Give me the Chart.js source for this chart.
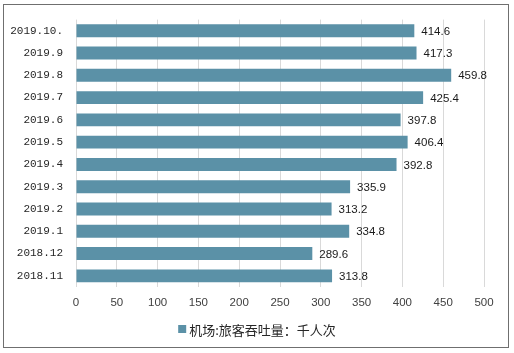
<!DOCTYPE html>
<html>
<head>
<meta charset="utf-8">
<script src="https://cdn.jsdelivr.net/npm/chart.js@4"></script>
<style>
html,body{margin:0;padding:0;background:#fff;}
#wrap{position:relative;width:514px;height:353px;}
#frame{position:absolute;left:3px;top:4px;width:506px;height:344px;box-sizing:border-box;border:1px solid #6f6f6f;pointer-events:none;}
canvas{display:block;}
</style>
</head>
<body>
<div id="wrap">
<canvas id="c" width="514" height="353"></canvas>
<div id="frame"></div>
</div>
<script>
const categories = ["2019.10.","2019.9","2019.8","2019.7","2019.6","2019.5","2019.4","2019.3","2019.2","2019.1","2018.12","2018.11"];
const values = [414.6,417.3,459.8,425.4,397.8,406.4,392.8,335.9,313.2,334.8,289.6,313.8];
const seriesName = "机场:旅客吞吐量：千人次";
const xTicks = [0,50,100,150,200,250,300,350,400,450,500];
const barColor = '#5B91A7';

const labelPlugin = {
  id: 'valueLabels',
  afterDatasetsDraw(chart) {
    const ctx = chart.ctx;
    const meta = chart.getDatasetMeta(0);
    ctx.save();
    ctx.font = '11.5px "Liberation Sans", "Noto Sans", sans-serif';
    ctx.fillStyle = '#1a1a1a';
    ctx.textAlign = 'left';
    ctx.textBaseline = 'middle';
    meta.data.forEach((bar, i) => {
      ctx.fillText(values[i].toFixed(1), bar.x + 7, bar.y + 1);
    });
    ctx.restore();
  }
};

const legendPlugin = {
  id: 'customLegend',
  afterDraw(chart) {
    const ctx = chart.ctx;
    ctx.save();
    ctx.font = '13px "Noto Sans CJK SC", sans-serif';
    const w = ctx.measureText(seriesName).width;
    const total = 8 + 3 + w;
    const x0 = chart.width / 2 - total / 2;
    const cy = chart.chartArea.bottom + 42;
    ctx.fillStyle = barColor;
    ctx.fillRect(x0, cy - 4, 8, 8);
    ctx.fillStyle = '#262626';
    ctx.textAlign = 'left';
    ctx.textBaseline = 'middle';
    ctx.fillText(seriesName, x0 + 11, cy + 1);
    ctx.restore();
  }
};

new Chart(document.getElementById('c'), {
  type: 'bar',
  data: {
    labels: categories,
    datasets: [{
      label: seriesName,
      data: values,
      backgroundColor: barColor,
      borderWidth: 0,
      barPercentage: 0.58,
      categoryPercentage: 1.0
    }]
  },
  options: {
    indexAxis: 'y',
    responsive: false,
    animation: false,
    layout: { padding: { left: 0, right: 30, top: 18, bottom: 39 } },
    scales: {
      x: {
        min: 0, max: 500,
        afterBuildTicks(scale) { scale.ticks = xTicks.map(v => ({ value: v })); },
        afterFit(scale) { scale.height = 27; },
        grid: { color: '#d9d9d9', drawTicks: false, lineWidth: 1 },
        border: { display: false },
        ticks: {
          padding: 9,
          color: '#404040',
          font: { family: '"Liberation Sans", sans-serif', size: 11.5 }
        }
      },
      y: {
        afterFit(scale) { scale.width = 76; },
        grid: { display: false, drawTicks: false },
        border: { display: false },
        ticks: {
          padding: 13,
          color: '#262626',
          font: { family: '"Liberation Mono", "DejaVu Sans Mono", monospace', size: 11 }
        }
      }
    },
    plugins: {
      legend: { display: false },
      tooltip: { enabled: false }
    }
  },
  plugins: [labelPlugin, legendPlugin]
});
</script>
</body>
</html>
